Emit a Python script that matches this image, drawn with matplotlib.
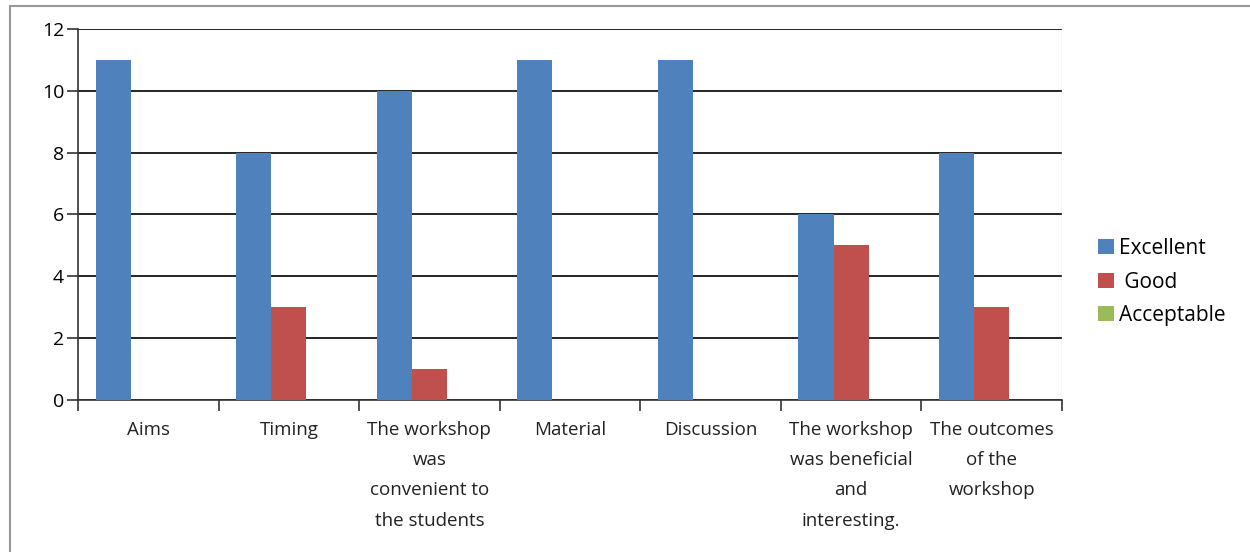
import numpy as np
import matplotlib.pyplot as plt
from matplotlib.patches import Rectangle

categories = ['Aims', 'Timing', 'The workshop\nwas\nconvenient to\nthe students',
              'Material', 'Discussion', 'The workshop\nwas beneficial\nand\ninteresting.',
              'The outcomes\nof the\nworkshop']
excellent = [11, 8, 10, 11, 11, 6, 8]
good = [0, 3, 1, 0, 0, 5, 3]
acceptable = [0, 0, 0, 0, 0, 0, 0]
series_names = ['Excellent', ' Good', 'Acceptable']
colors = ['#4F81BD', '#C0504D', '#9BBB59']

plt.rcParams['font.family'] = ['Open Sans', 'DejaVu Sans']

fig = plt.figure(figsize=(12.5, 5.52), dpi=100)
ax = fig.add_axes([0.0624, 0.2754, 0.7872, 0.6721])

x = np.arange(len(categories))
w = 0.25
for i, (vals, name, c) in enumerate(zip([excellent, good, acceptable], series_names, colors)):
    ax.bar(x + (i - 1) * w, vals, width=w, color=c, label=name, zorder=3)

ax.set_xlim(-0.5, len(categories) - 0.5)
ax.set_ylim(0, 12)
ax.set_yticks(range(0, 13, 2))
ax.yaxis.grid(True, color='black', linewidth=1.2, zorder=0)
ax.set_xticks(x)
ax.set_xticklabels(categories, fontsize=13.5, linespacing=1.88, color='#222222')
ax.set_xticks(np.arange(-0.5, len(categories), 1), minor=True)
ax.tick_params(axis='x', which='major', length=0, pad=15)
ax.tick_params(axis='x', which='minor', length=8, width=1.2, color='#333333', direction='out')
ax.tick_params(axis='y', length=8, width=1.2, color='#333333', labelsize=14, pad=2)

for side in ['top', 'right']:
    ax.spines[side].set_visible(False)
ax.spines['left'].set_color('#333333')
ax.spines['left'].set_linewidth(1.2)
ax.spines['bottom'].set_color('#333333')
ax.spines['bottom'].set_linewidth(1.2)
ax.axvline(len(categories) - 0.5, color='#cccccc', linewidth=1)

ax.legend(loc='center left', bbox_to_anchor=(1.018, 0.318), frameon=False, fontsize=15,
          handlelength=0.75, handleheight=0.75, handletextpad=0.25, labelspacing=0.6)

fig.patches.append(Rectangle((0.008, -0.05), 1.1, 1.04, transform=fig.transFigure,
                             fill=False, edgecolor='#999999', linewidth=1.5))

fig.savefig('out.png', dpi=100)
